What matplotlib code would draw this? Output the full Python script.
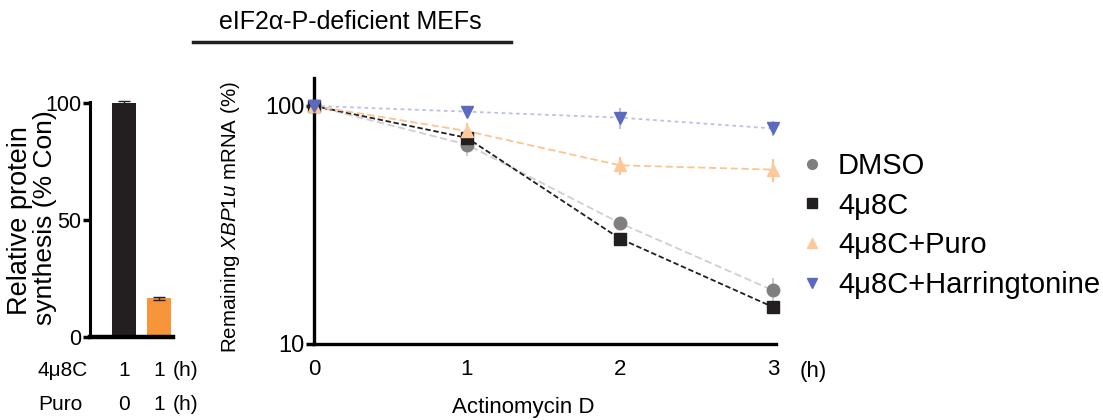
import matplotlib
matplotlib.use("Agg")
import matplotlib.pyplot as plt
from matplotlib.lines import Line2D
import numpy as np

plt.rcParams['font.family'] = ['Liberation Sans', 'DejaVu Sans']
plt.rcParams['mathtext.fontset'] = 'custom'
plt.rcParams['mathtext.rm'] = 'Liberation Sans'
plt.rcParams['mathtext.it'] = 'Liberation Sans:italic'

# left panel: protein synthesis
bar_values = [100, 16.5]
bar_errors = [1.2, 0.8]
bar_colors = ['#231f20', '#f7953a']
row_4u8c = ['1', '1']
row_puro = ['0', '1']

# right panel: XBP1u decay
hours = [0, 1, 2, 3]
dmso = [100, 68.8, 32.2, 16.8]
dmso_err = [0, 7, 1.2, 2.2]
u8c = [100, 73.4, 27.7, 14.3]
u8c_err = [0, 1.5, 0.8, 0.9]
puro = [100, 78.4, 56.3, 54.0]
puro_err = [27, 6, 5, 6]
harr = [100, 94.6, 89.3, 80.4]
harr_err = [0, 2, 9, 6]

W, H = 1103, 420
fig = plt.figure(figsize=(W / 100, H / 100), dpi=100)


def fx(px):
    return px / W


def fy(py):
    return 1 - py / H


# ---- left bar chart
axl = fig.add_axes([fx(90), fy(337), fx(83), (337 - 101.7) / H])
xpos = np.arange(len(bar_values))
bars = axl.bar(xpos, bar_values, width=0.66, color=bar_colors, yerr=bar_errors,
               error_kw=dict(ecolor='#231f20', capsize=4, elinewidth=1,
                             capthick=1, clip_on=False))
axl.set_xlim(-0.97, 1.4)
axl.set_ylim(0, 100.7)
axl.set_yticks([0, 50, 100])
axl.set_xticks([])
axl.spines[['top', 'right']].set_visible(False)
axl.spines['left'].set_linewidth(2.2)
axl.spines['bottom'].set_linewidth(3.2)
axl.tick_params(axis='y', length=5, width=2.5, labelsize=15.5, pad=1)
fig.text(fx(20), fy(221), 'Relative protein', rotation=90, ha='center',
         va='center', fontsize=19.5)
fig.text(fx(45), fy(218), 'synthesis (% Con)', rotation=90, ha='center',
         va='center', fontsize=19)

for i, (a, b) in enumerate(zip(row_4u8c, row_puro)):
    fig.text(fx(124 + 35 * i), fy(370), a, ha='center', va='center', fontsize=15)
    fig.text(fx(124 + 35 * i), fy(405), b, ha='center', va='center', fontsize=15)
fig.text(fx(38), fy(370), '4μ8C', ha='left', va='center', fontsize=15)
fig.text(fx(38), fy(405), 'Puro', ha='left', va='center', fontsize=15)
fig.text(fx(186), fy(370), '(h)', ha='center', va='center', fontsize=15)
fig.text(fx(186), fy(405), '(h)', ha='center', va='center', fontsize=15)

# ---- right decay plot
axr = fig.add_axes([fx(314), fy(344), fx(462), (344 - 78) / H])
series = [
    ('DMSO', dmso, dmso_err, 'o', '#7f7f7f', '#cfcfcf', (0, (4, 2)), 9),
    ('4μ8C', u8c, u8c_err, 's', '#231f20', '#231f20', (0, (3, 1.5)), 8),
    ('4μ8C+Puro', puro, puro_err, '^', '#fdc99a', '#fbc490', (0, (4, 2)), 9),
    ('4μ8C+Harringtonine', harr, harr_err, 'v', '#5b6abf', '#b9c0ea', (0, (2, 2)), 9),
]
handles = []
for name, vals, err, mk, mc, lc, ls, ms in series:
    axr.errorbar(hours, vals, yerr=err, fmt='none', ecolor=lc, elinewidth=1.5,
                 capsize=0, clip_on=False, zorder=2)
    axr.plot(hours, vals, linestyle=ls, color=lc, linewidth=1.3, zorder=2,
             clip_on=False)
    axr.plot(hours, vals, linestyle='none', marker=mk, color=mc, markersize=ms,
             zorder=3, clip_on=False)
    handles.append(Line2D([], [], linestyle='none', marker=mk, color=mc,
                          markersize=7, label=name))

axr.set_yscale('log')
axr.set_ylim(10, 131)
axr.set_xlim(0, 3.02)
axr.set_yticks([10, 100])
axr.set_yticklabels(['10', '100'])
axr.yaxis.set_minor_locator(matplotlib.ticker.NullLocator())
axr.set_xticks(hours)
axr.set_xticklabels([str(h) for h in hours])
axr.spines[['top', 'right']].set_visible(False)
axr.spines['left'].set_linewidth(2.4)
axr.spines['bottom'].set_linewidth(2.4)
axr.tick_params(axis='y', length=6, width=2.5, labelsize=17, pad=1)
axr.tick_params(axis='x', length=0, labelsize=16, pad=11)
fig.text(fx(230), fy(217), r'Remaining $\mathit{XBP1u}$ mRNA (%)', rotation=90,
         ha='center', va='center', fontsize=14.8)
fig.text(fx(523), fy(408), 'Actinomycin D', ha='center', va='center',
         fontsize=16)
fig.text(fx(813), fy(372), '(h)', ha='center', va='center', fontsize=16)

fig.legend(handles=handles, loc='upper left',
           bbox_to_anchor=(fx(800), fy(152)), frameon=False, fontsize=21,
           handlelength=0.8, handletextpad=0.5, labelspacing=0.4,
           borderaxespad=0, borderpad=0)

# title with underline
fig.text(fx(350), fy(22), 'eIF2α-P-deficient MEFs', ha='center',
         va='center', fontsize=18)
fig.add_artist(Line2D([fx(193), fx(511)], [fy(42), fy(42)], color='#231f20',
                      linewidth=2.5))

fig.savefig('out.png', dpi=100)
